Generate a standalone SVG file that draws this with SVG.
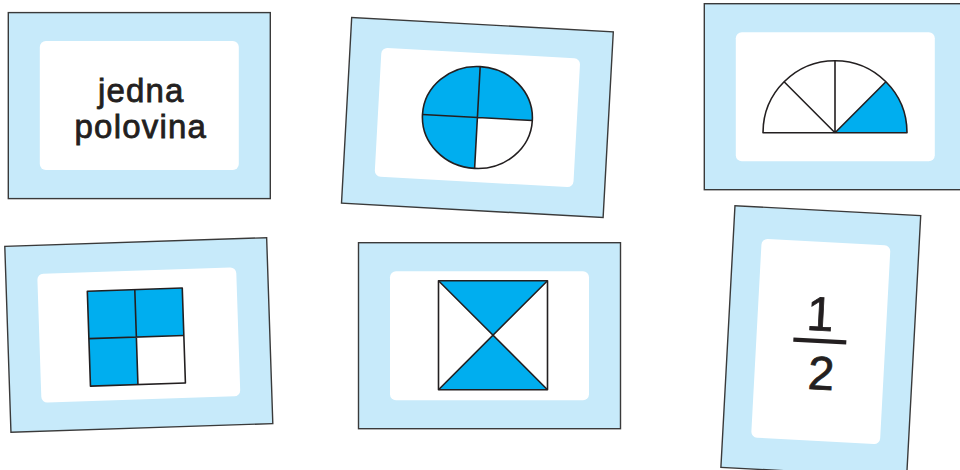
<svg xmlns="http://www.w3.org/2000/svg" width="960" height="470" viewBox="0 0 960 470">
<style>
.outer{fill:#c7eafa;stroke:#3a3a3a;stroke-width:1.4}
.inner{fill:#ffffff}
.blue{fill:#00aeef}
.wht{fill:#ffffff}
.ln{fill:none;stroke:#231f20;stroke-width:1.6;stroke-linejoin:round}
.txt{font-family:"Liberation Sans",Arial,sans-serif;fill:#231f20;stroke:#231f20;stroke-width:0.8;text-anchor:middle}
</style>
<defs>
<g id="land">
<rect class="outer" x="-131" y="-93" width="262" height="186"/>
<rect class="inner" x="-99.5" y="-64.5" width="199" height="129" rx="6"/>
</g>
<g id="port">
<rect class="outer" x="-93" y="-131" width="186" height="262"/>
<rect class="inner" x="-64.5" y="-99.5" width="129" height="199" rx="6"/>
</g>
</defs>

<g id="card-text" transform="translate(139.3,105.6)">
<use href="#land"/>
<text class="txt" x="2" y="-3.5" font-size="33" letter-spacing="1.2">jedna</text>
<text class="txt" x="1.5" y="32.5" font-size="33" letter-spacing="1.2">polovina</text>
</g>

<g id="card-circle" transform="translate(477.4,117.5) rotate(3.14)">
<use href="#land"/>
<path class="blue" d="M0,0 L-55,0 A55,51 0 0 1 0,-51 Z"/>
<path class="blue" d="M0,0 L0,-51 A55,51 0 0 1 55,0 Z"/>
<path class="blue" d="M0,0 L0,51 A55,51 0 0 1 -55,0 Z"/>
<path class="wht" d="M0,0 L55,0 A55,51 0 0 1 0,51 Z"/>
<ellipse class="ln" cx="0" cy="0" rx="55" ry="51"/>
<path class="ln" d="M-55,0 L55,0 M0,-51 L0,51"/>
</g>

<g id="card-semicircle" transform="translate(835.3,96.7)">
<use href="#land"/>
<path class="wht" d="M-72.3,36 L71.7,36 A72,72 0 0 0 -72.3,36 Z"/>
<path class="blue" d="M-0.3,36 L71.7,36 A72,72 0 0 0 50.6,-14.9 Z"/>
<path class="ln" d="M-72.3,36 L71.7,36 A72,72 0 0 0 -72.3,36 Z"/>
<path class="ln" d="M-0.3,36 L-0.3,-36 M-0.3,36 L-51.2,-14.9 M-0.3,36 L50.6,-14.9"/>
</g>

<g id="card-square" transform="translate(138.8,335) rotate(-1.9)">
<use href="#land"/>
<rect class="blue" x="-50" y="-45.5" width="95" height="95"/>
<rect class="wht" x="-2.5" y="2" width="47.5" height="47.5"/>
<rect class="ln" x="-50" y="-45.5" width="95" height="95"/>
<path class="ln" d="M-2.5,-45.5 L-2.5,49.5 M-50,2 L45,2"/>
</g>

<g id="card-triangles" transform="translate(489.5,335.7)">
<use href="#land"/>
<rect class="wht" x="-51" y="-55" width="109" height="109"/>
<path class="blue" d="M-51,-55 L58,-55 L3.5,-0.5 Z M-51,54 L58,54 L3.5,-0.5 Z"/>
<rect class="ln" x="-51" y="-55" width="109" height="109"/>
<path class="ln" d="M-51,-55 L58,54 M58,-55 L-51,54"/>
</g>

<g id="card-fraction" transform="translate(820.8,341.5) rotate(3.08)">
<use href="#port"/>
<text class="txt" x="-2" y="-11" font-size="48" stroke-width="1.5">1</text>
<rect x="-27.5" y="-2.5" width="53" height="4.2" fill="#231f20"/>
<text class="txt" x="2" y="48" font-size="47" stroke-width="1.5">2</text>
</g>
</svg>
